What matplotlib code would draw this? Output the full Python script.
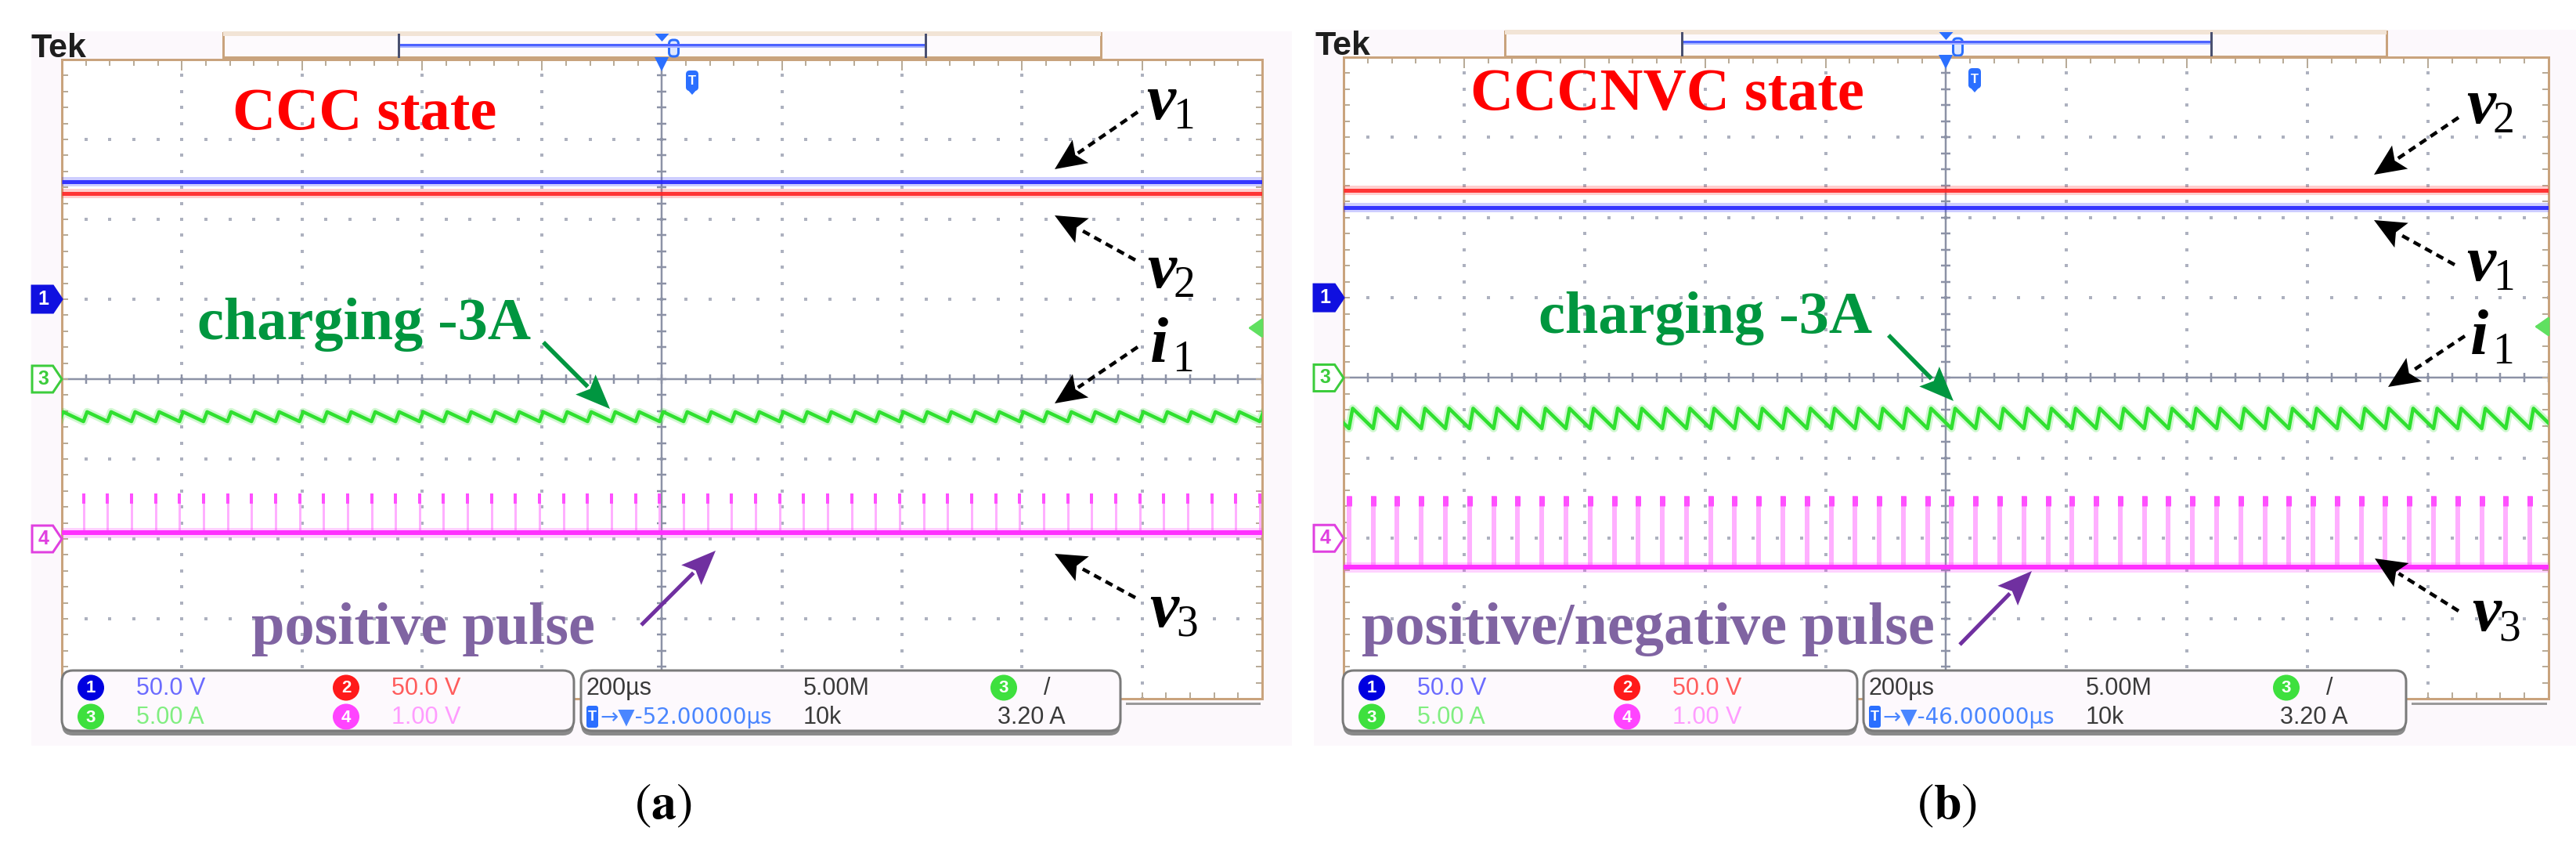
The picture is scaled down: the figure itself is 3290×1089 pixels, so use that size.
import numpy as np
import matplotlib
matplotlib.use('Agg')
import matplotlib.pyplot as plt
from matplotlib.patches import Rectangle, FancyBboxPatch, Polygon, Ellipse
from matplotlib.transforms import blended_transform_factory

plt.rcParams['mathtext.fontset'] = 'stix'
SERIF = ['Liberation Serif', 'DejaVu Serif']
SANS = ['Liberation Sans', 'DejaVu Sans']

# ------------------------------------------------------------------ data
# trace values in screen divisions (10 x 8 graticule, 0 = centre line)
panel_ids = ['a', 'b']
state_titles = ['CCC state', 'CCCNVC state']
pulse_titles = ['positive pulse', 'positive/negative pulse']
v1_level = [2.47, 2.12]
v2_level = [2.32, 2.34]
i1_high = [-0.41, -0.38]
i1_low = [-0.53, -0.63]
v3_base = [-1.92, -2.36]
v3_peak = [-1.43, -1.47]
pulse_phase = [-0.02, 0.045]      # div
pulse_period = 0.2                # div (40 us at 200 us/div)
i1_rise = 0.03                    # div
ch_names = ['1', '3', '4']
ch_ground = [1.0, 0.0, -2.0]      # div
trigger_level_A = 3.20
ch3_scale_A = 5.00
row1_labels = ['50.0 V', '50.0 V']   # ch1, ch2
row2_labels = ['5.00 A', '1.00 V']   # ch3, ch4
timebase = '200µs'
sample_rate = '5.00M'
record_length = '10k'
trigger_offset = ['-52.00000µs', '-46.00000µs']
trigger_text = '3.20 A'

# ------------------------------------------------------------------ layout (pixels)
W, H = 3291, 1089
GRID = [(79, 1612, 76, 892), (1716, 3255, 73, 892)]
SCREEN = [(40, 1650, 40, 952), (1678, 3291, 38, 952)]
RECBAR = [(285, 1406, 42, 73), (1922, 3048, 40, 72)]
RECLINE = [(509, 1182, 57), (2148, 2824, 53)]
TEK_X = [40, 1680]
BOX_L = [79, 1715]
BOX_R = [(742, 1431), (2380, 3073)]
BOX_Lw = [654, 657]
ANN = [
    dict(title=(297, 165), charge=(252, 433), garrow=((694, 437), (779, 522)),
         pulse=(321, 822), parrow=((819, 798), (914, 703)),
         labels=[('v', '1', (1464, 152)), ('v', '2', (1465, 367)),
                 ('i', '1', (1469, 462)), ('v', '3', (1468, 800))],
         darrows=[((1453, 143), (1347, 216)), ((1450, 332), (1347, 275)),
                  ((1453, 443), (1347, 515)), ((1450, 763), (1347, 707))],
         caption=(847, 1028), tbadge=884),
    dict(title=(1878, 140), charge=(1965, 425), garrow=((2412, 428), (2495, 512)),
         pulse=(1739, 822), parrow=((2503, 823), (2595, 729)),
         labels=[('v', '2', (3150, 157)), ('v', '1', (3150, 358)),
                 ('i', '1', (3155, 452)), ('v', '3', (3157, 805))],
         darrows=[((3140, 150), (3032, 223)), ((3135, 338), (3032, 281)),
                  ((3148, 429), (3050, 494)), ((3140, 780), (3033, 713))],
         caption=(2487, 1028), tbadge=2522),
]

C_BLUE, C_RED, C_GREEN, C_MAG = '#2424ff', '#ff2424', '#30e030', '#ff30ff'
TAN = '#c9a37d'
LAV = '#fcf8fc'

fig = plt.figure(figsize=(W / 100, H / 100), dpi=100)
fig.patch.set_facecolor('white')

bg = fig.add_axes([0, 0, 1, 1], zorder=0)
bg.set_xlim(0, W); bg.set_ylim(H, 0); bg.axis('off')
ov = fig.add_axes([0, 0, 1, 1], zorder=3)
ov.set_xlim(0, W); ov.set_ylim(H, 0); ov.axis('off')


def px(v):
    return v * 0.72


def arrow(tail, tip, color, lw, dashed=False, head_len=40, head_w=34):
    tail = np.asarray(tail, float); tip = np.asarray(tip, float)
    d = tip - tail
    u = d / np.hypot(*d)
    base = tip - u * head_len
    ov.plot([tail[0], base[0] + u[0] * 4], [tail[1], base[1] + u[1] * 4], color=color, lw=px(lw),
            ls=(0, (2.2, 1.5)) if dashed else '-', solid_capstyle='butt', dash_capstyle='butt')
    nrm = np.array([-u[1], u[0]])
    ov.add_patch(Polygon([tip, base + nrm * head_w / 2, base + u * 8, base - nrm * head_w / 2],
                         closed=True, fc=color, ec='none'))


for p in range(2):
    l, r, t, b = GRID[p]
    divw = (r - l) / 10.0
    divh = (b - t) / 8.0
    # screen background
    sx0, sx1, sy0, sy1 = SCREEN[p]
    bg.add_patch(Rectangle((sx0, sy0), sx1 - sx0, sy1 - sy0, fc=LAV, ec='none'))
    # record-view bar
    rx0, rx1, ry0, ry1 = RECBAR[p]
    bg.add_patch(Rectangle((rx0, ry0), rx1 - rx0, ry1 - ry0, fc='#fdfafd', ec=TAN, lw=px(3)))
    bg.add_patch(Rectangle((rx0, ry0 - 2), rx1 - rx0, 6, fc='#f2e4d6', ec='none'))
    lx0, lx1, ly = RECLINE[p]
    bg.plot([lx0, lx1], [ly, ly], color='#4d63ff', lw=px(3))
    bg.plot([lx0, lx1], [ly + 3, ly + 3], color='#a8b4ff', lw=px(2))
    for xx in (lx0, lx1):
        bg.plot([xx, xx], [ry0 + 2, ry1 - 1], color='#4a5070', lw=px(3))
    cx = (l + r) / 2
    bg.add_patch(Polygon([[cx - 9, ry0 + 1], [cx + 9, ry0 + 1], [cx, ry0 + 11]], closed=True,
                         fc='#2b6fff', ec='none'))
    bg.add_patch(FancyBboxPatch((cx + 9, ry0 + 9), 12, ry1 - ry0 - 10,
                                boxstyle='round,pad=0,rounding_size=5', fc='#dfe8ff', ec='#2b6fff', lw=px(3)))
    bg.text(TEK_X[p], t - 3, 'Tek', fontsize=31, fontweight='bold', family=SANS,
            color='#1e1e1e', va='baseline', ha='left')

    # ---------------- graticule axes
    ax = fig.add_axes([l / W, 1 - b / H, (r - l) / W, (b - t) / H], zorder=1)
    ax.set_xlim(0, 10); ax.set_ylim(-4, 4)
    ax.set_xticks([]); ax.set_yticks([])
    for s in ax.spines.values():
        s.set_color(TAN); s.set_linewidth(px(3))
    ax.set_facecolor('white')
    minor_x = np.arange(0, 10.001, 0.2)
    minor_y = np.arange(-4, 4.001, 0.2)
    dot_c = '#adb1bf'
    for xv in [1, 2, 3, 4, 6, 7, 8, 9]:
        ax.plot(np.full(minor_y.size, xv), minor_y, ls='none', marker='s', ms=2.2, mew=0, color=dot_c)
    for yv in [-3, -2, -1, 1, 2, 3]:
        ax.plot(minor_x, np.full(minor_x.size, yv), ls='none', marker='s', ms=2.2, mew=0, color=dot_c)
    cross_c = '#8c92a6'
    ax.axvline(5, color=cross_c, lw=px(2.5))
    ax.axhline(0, color=cross_c, lw=px(2.5))
    ax.plot(minor_x, np.zeros(minor_x.size), ls='none', marker='|', ms=8, mew=px(2.5), color=cross_c)
    ax.plot(np.full(minor_y.size, 5), minor_y, ls='none', marker='_', ms=8, mew=px(2.5), color=cross_c)
    tick_c = '#b8ab98'
    ax.vlines(minor_x, 4 - 8 / divh, 4, color=tick_c, lw=px(2))
    ax.vlines(np.arange(0, 11), 4 - 14 / divh, 4, color=tick_c, lw=px(2))
    ax.vlines(minor_x, -4, -4 + 8 / divh, color=tick_c, lw=px(2))
    ax.hlines(minor_y, 0, 8 / divw, color=tick_c, lw=px(2))
    ax.hlines(minor_y, 10 - 8 / divw, 10, color=tick_c, lw=px(2))

    # ---------------- traces
    xx = np.array([0.0, 10.0])
    for lvl, col in ((v1_level[p], C_BLUE), (v2_level[p], C_RED)):
        ax.plot(xx, [lvl, lvl], color=col, lw=px(12), alpha=0.22, solid_capstyle='butt', zorder=4)
        ax.plot(xx, [lvl, lvl], color=col, lw=px(5), alpha=0.9, solid_capstyle='butt', zorder=4)
    # i1 sawtooth
    ts, ys = [], []
    for k in range(-1, 52):
        t0 = pulse_phase[p] + k * pulse_period
        ts += [t0, t0 + i1_rise]
        ys += [i1_low[p], i1_high[p]]
    ax.plot(ts, ys, color=C_GREEN, lw=px(10), alpha=0.22, zorder=4)
    ax.plot(ts, ys, color=C_GREEN, lw=px(4.5), zorder=4)
    # v3 pulses
    pt = np.array([pulse_phase[p] + k * pulse_period for k in range(0, 52)])
    pt = pt[(pt > 0) & (pt < 10)]
    pw = 3 if p == 0 else 6
    ax.vlines(pt, v3_base[p], v3_peak[p], color='#ffb0ff', lw=px(pw), zorder=4)
    ax.vlines(pt, v3_peak[p] - 0.13, v3_peak[p], color='#ff50ff', lw=px(pw + 1), zorder=4)
    ax.plot(xx, [v3_base[p]] * 2, color=C_MAG, lw=px(13), alpha=0.22, solid_capstyle='butt', zorder=4)
    ax.plot(xx, [v3_base[p]] * 2, color=C_MAG, lw=px(6), solid_capstyle='butt', zorder=4)

    # ---------------- channel tags and trigger markers
    tr = blended_transform_factory(ax.transAxes, ax.transData)
    tw = 38 / (r - l)
    th = 17 / divh
    tag_style = {'1': ('#1010e0', '#1010e0', 'white'),
                 '3': ('white', '#3ccc3c', '#3ccc3c'),
                 '4': ('white', '#e040e0', '#e040e0')}
    for name, g in zip(ch_names, ch_ground):
        fc, ec, tc = tag_style[name]
        poly = Polygon([[-tw, g - th], [-0.3 * tw, g - th], [0, g], [-0.3 * tw, g + th], [-tw, g + th]],
                       closed=True, fc=fc, ec=ec, lw=px(3), transform=tr, clip_on=False, zorder=6)
        ax.add_patch(poly)
        ax.text(-0.62 * tw, g, name, transform=tr, ha='center', va='center', fontsize=18,
                fontweight='bold', family=SANS, color=tc, clip_on=False, zorder=7)
    trig = ch_ground[1] + trigger_level_A / ch3_scale_A
    ax.annotate('', xy=(10 - 18 / divw, trig), xytext=(10 - 1 / divw, trig),
                arrowprops=dict(arrowstyle='-|>,head_length=0.5,head_width=0.35', color='#60e060',
                                lw=px(3), mutation_scale=22, shrinkA=0, shrinkB=0), zorder=7)
    ax.plot(5, 4 - 6 / divh, marker='v', ms=13, color='#2b6fff', mew=0, clip_on=False, zorder=7)

    # ---------------- overlay annotations
    A = ANN[p]
    tb = A['tbadge']
    ov.add_patch(FancyBboxPatch((tb - 8, t + 14), 16, 26, boxstyle='round,pad=0,rounding_size=5',
                                fc='#2b6fff', ec='none'))
    ov.add_patch(Polygon([[tb - 8, t + 36], [tb + 8, t + 36], [tb, t + 45]], closed=True,
                         fc='#2b6fff', ec='none'))
    ov.text(tb, t + 28, 'T', color='white', fontsize=12, fontweight='bold', ha='center', va='center',
            family=SANS)

    ov.text(*A['title'], state_titles[p], color='#ff0000', fontsize=55, fontweight='bold',
            family=SERIF, va='baseline', ha='left')
    ov.text(*A['charge'], 'charging -3A', color='#00963f', fontsize=55, fontweight='bold',
            family=SERIF, va='baseline', ha='left')
    ov.text(*A['pulse'], pulse_titles[p], color='#8064a2', fontsize=55, fontweight='bold',
            family=SERIF, va='baseline', ha='left')
    arrow(*A['garrow'], '#009640', 5.5, head_len=44, head_w=36)
    arrow(*A['parrow'], '#7030a0', 5.0, head_len=44, head_w=36)
    for (tail, tip) in A['darrows']:
        arrow(tail, tip, 'black', 4.5, dashed=True, head_len=40, head_w=36)
    for sym, sub, (lx, ly) in A['labels']:
        ov.text(lx, ly, sym, fontsize=60, fontweight='bold', fontstyle='italic', family=SERIF,
                va='baseline', ha='left', color='black')
        dx = 34 if sym == 'v' else 28
        ov.text(lx + dx, ly + 12, sub, fontsize=40, family=SERIF, va='baseline', ha='left',
                color='black')
    ov.text(*A['caption'], r'$(\mathbf{%s})$' % panel_ids[p], fontsize=46, ha='center',
            va='center', color='black')

    # ---------------- status boxes
    by0, by1 = 856, 935
    boxes = [(BOX_L[p], BOX_L[p] + BOX_Lw[p]), BOX_R[p]]
    for (x0, x1) in boxes:
        ov.add_patch(FancyBboxPatch((x0, by0 + 4), x1 - x0, by1 - by0, boxstyle='round,pad=0,rounding_size=14',
                                    fc='#8a8a8a', ec='none'))
        ov.add_patch(FancyBboxPatch((x0, by0), x1 - x0, by1 - by0 - 2, boxstyle='round,pad=0,rounding_size=14',
                                    fc='#fdf9fd', ec='#7a7a7a', lw=px(3)))
    ov.plot([BOX_R[p][1] + 8, r - 4], [b + 6, b + 6], color='#9a9a9a', lw=px(3))
    y1r, y2r = 878, 915
    x0 = BOX_L[p]
    badge_c = {'1': '#0000e0', '2': '#ff1a1a', '3': '#3ee03e', '4': '#ff44ff'}
    text_c = {'1': '#6b6bff', '2': '#ff5c5c', '3': '#80ee80', '4': '#ff9cff'}
    FS = 22

    def badge(cxp, cyp, n):
        ov.add_patch(Ellipse((cxp, cyp), 34, 33, fc=badge_c[n], ec='none'))
        ov.text(cxp, cyp + 1, n, color='white', fontsize=16, fontweight='bold', ha='center',
                va='center', family=SANS)

    for n, cxp, cyp, lab in (('1', x0 + 37, y1r, row1_labels[0]), ('2', x0 + 363, y1r, row1_labels[1]),
                             ('3', x0 + 37, y2r, row2_labels[0]), ('4', x0 + 363, y2r, row2_labels[1])):
        badge(cxp, cyp, n)
        ov.text(cxp + 58, cyp + 1, lab, color=text_c[n], fontsize=FS, family=SANS,
                ha='left', va='center')
    rx = BOX_R[p][0]
    dark = '#3a3a3a'
    ov.text(rx + 7, y1r + 1, timebase, color=dark, fontsize=FS, family=SANS, ha='left', va='center')
    ov.text(rx + 284, y1r + 1, sample_rate, color=dark, fontsize=FS, family=SANS, ha='left', va='center')
    badge(rx + 540, y1r, '3')
    ov.text(rx + 595, y1r + 1, '/', color=dark, fontsize=FS, family=SANS, ha='center', va='center')
    ov.add_patch(FancyBboxPatch((rx + 7, y2r - 14), 15, 28, boxstyle='round,pad=0,rounding_size=3',
                                fc='#2b6fff', ec='none'))
    ov.text(rx + 14.5, y2r, 'T', color='white', fontsize=13, fontweight='bold', ha='center', va='center',
            family=SANS)
    ov.text(rx + 24, y2r + 1, '→▼' + trigger_offset[p], color='#4a86ff', fontsize=20,
            family=['DejaVu Sans'], ha='left', va='center')
    ov.text(rx + 284, y2r + 1, record_length, color=dark, fontsize=FS, family=SANS, ha='left', va='center')
    ov.text(rx + 532, y2r + 1, trigger_text, color=dark, fontsize=FS, family=SANS, ha='left', va='center')

fig.savefig('out.png', dpi=100, facecolor='white')
